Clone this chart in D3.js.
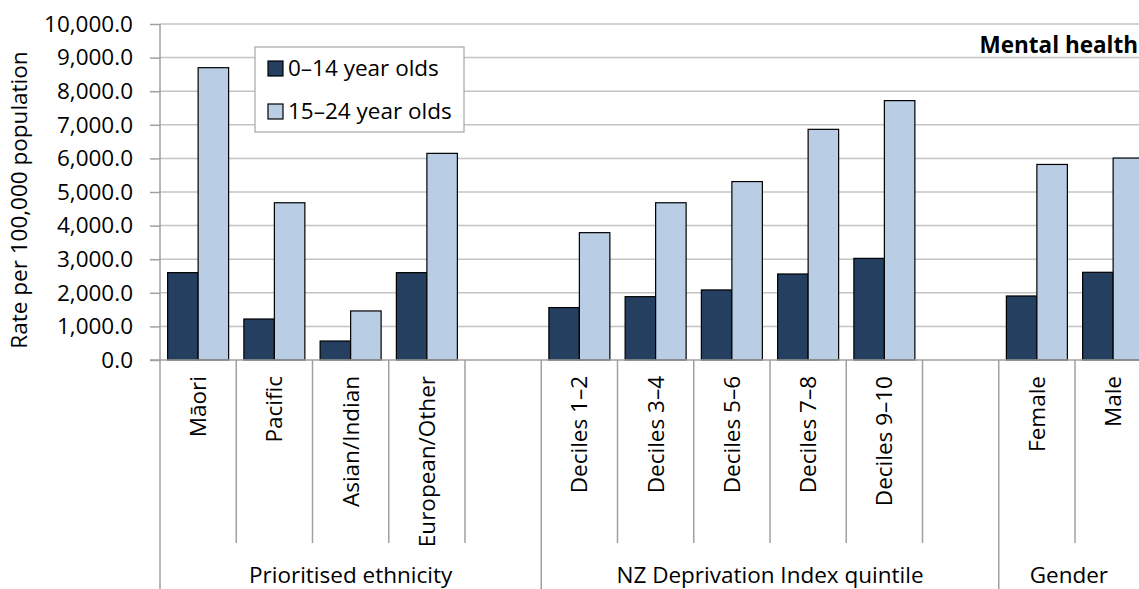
<!DOCTYPE html>
<html>
<head>
<meta charset="utf-8">
<script src="https://cdn.jsdelivr.net/npm/d3@7"></script>
<style>
  body { margin: 0; background: #fff; }
  text { font-family: "Open Sans", "Noto Sans", sans-serif; fill: #000; }
</style>
</head>
<body>
<svg id="chart" width="1139" height="589"></svg>
<script>
// categories (blank slots separate the groups)
var categories = ['Māori', 'Pacific', 'Asian/Indian', 'European/Other', '',
                  'Deciles 1–2', 'Deciles 3–4', 'Deciles 5–6', 'Deciles 7–8', 'Deciles 9–10', '',
                  'Female', 'Male'];
var series = ['0–14 year olds', '15–24 year olds'];
var kids  = [2600, 1220, 565, 2600, null, 1560, 1885, 2085, 2560, 3025, null, 1905, 2610];
var youth = [8700, 4680, 1460, 6150, null, 3790, 4680, 5310, 6865, 7720, null, 5820, 6010];
var groups = [
  { name: 'Prioritised ethnicity', from: 0, to: 5 },
  { name: 'NZ Deprivation Index quintile', from: 5, to: 11 },
  { name: 'Gender', from: 11, to: 13 }
];
var yTicks = d3.range(0, 10001, 1000);
var colors = ['#243f60', '#b9cde5'];

var svg = d3.select('#chart');
var W = 1139, H = 589;
var plotLeft = 160, plotTop = 24, base = 360, slot = 76.25;
var fs = '22.5px';

var x = d3.scaleBand().domain(d3.range(categories.length))
  .range([plotLeft, plotLeft + slot * categories.length]).padding(0);
var x1 = d3.scaleBand().domain(series).range([0, x.bandwidth()])
  .paddingInner(0).paddingOuter(0.25);
var y = d3.scaleLinear().domain([0, 10000]).range([base, plotTop]);

// gridlines
svg.append('g').selectAll('line').data(yTicks.filter(function (d) { return d > 0; }))
  .enter().append('line')
  .attr('x1', plotLeft).attr('x2', W)
  .attr('y1', function (d) { return y(d); }).attr('y2', function (d) { return y(d); })
  .attr('stroke', '#c4c4c4').attr('stroke-width', 1.5);

// bars
var data = [kids, youth];
var bars = svg.append('g');
series.forEach(function (s, si) {
  bars.selectAll('.b' + si)
    .data(data[si].map(function (v, i) { return { i: i, v: v }; }).filter(function (d) { return d.v != null; }))
    .enter().append('rect')
    .attr('class', 'b' + si)
    .attr('x', function (d) { return x(d.i) + x1(s); })
    .attr('y', function (d) { return y(d.v); })
    .attr('width', x1.bandwidth())
    .attr('height', function (d) { return base - y(d.v); })
    .attr('fill', colors[si])
    .attr('stroke', '#000').attr('stroke-width', 1.2);
});

// y axis
var yAxis = svg.append('g').attr('transform', 'translate(' + plotLeft + ',0)')
  .call(d3.axisLeft(y).tickValues(yTicks).tickFormat(d3.format(',.1f')).tickSize(10).tickSizeOuter(0).tickPadding(17));
yAxis.select('.domain').remove();
yAxis.selectAll('.tick line').attr('stroke', '#a0a0a0').attr('stroke-width', 1.5);
yAxis.selectAll('text').style('font-size', fs).attr('fill', '#000')
  .style('font-family', '"Open Sans", sans-serif');

svg.append('text')
  .attr('transform', 'translate(27,' + ((plotTop + base) / 2 + 8) + ') rotate(-90)')
  .attr('text-anchor', 'middle')
  .style('font-size', fs)
  .text('Rate per 100,000 population');

// category axis
svg.append('line').attr('x1', plotLeft - 10).attr('x2', W).attr('y1', base).attr('y2', base)
  .attr('stroke', '#a0a0a0').attr('stroke-width', 1.5);

var bounds = d3.range(categories.length + 1);
var longB = groups.map(function (g) { return g.from; });
svg.append('g').selectAll('line').data(bounds).enter().append('line')
  .attr('x1', function (b) { return plotLeft + b * slot; })
  .attr('x2', function (b) { return plotLeft + b * slot; })
  .attr('y1', function (b) { return b === 0 ? plotTop : base; })
  .attr('y2', function (b) { return longB.indexOf(b) >= 0 ? H : 543; })
  .attr('stroke', '#a0a0a0').attr('stroke-width', 1.5);

svg.append('g').selectAll('text').data(categories.map(function (c, i) { return { c: c, i: i }; }).filter(function (d) { return d.c; }))
  .enter().append('text')
  .attr('transform', function (d) { return 'translate(' + (x(d.i) + x.bandwidth() / 2) + ',376) rotate(-90)'; })
  .attr('text-anchor', 'end')
  .attr('dy', '0.35em')
  .style('font-size', fs)
  .text(function (d) { return d.c; });

svg.append('g').selectAll('text').data(groups).enter().append('text')
  .attr('x', function (g) { return (plotLeft + g.from * slot + Math.min(W, plotLeft + g.to * slot)) / 2; })
  .attr('y', 583)
  .attr('text-anchor', 'middle')
  .style('font-size', fs)
  .text(function (g) { return g.name; });

// title
svg.append('text').attr('x', 1138).attr('y', 53).attr('text-anchor', 'end')
  .style('font-size', fs).style('font-weight', 'bold')
  .text('Mental health');

// legend
var lg = svg.append('g');
lg.append('rect').attr('x', 255).attr('y', 47).attr('width', 209).attr('height', 85)
  .attr('fill', '#fff').attr('stroke', '#a6a6a6').attr('stroke-width', 1.2);
series.forEach(function (s, i) {
  lg.append('rect').attr('x', 268).attr('y', 61 + i * 43).attr('width', 15).attr('height', 15)
    .attr('fill', colors[i]).attr('stroke', '#000').attr('stroke-width', 1.2);
  lg.append('text').attr('x', 288).attr('y', 76 + i * 43)
    .style('font-size', fs).text(s);
});
</script>
</body>
</html>
